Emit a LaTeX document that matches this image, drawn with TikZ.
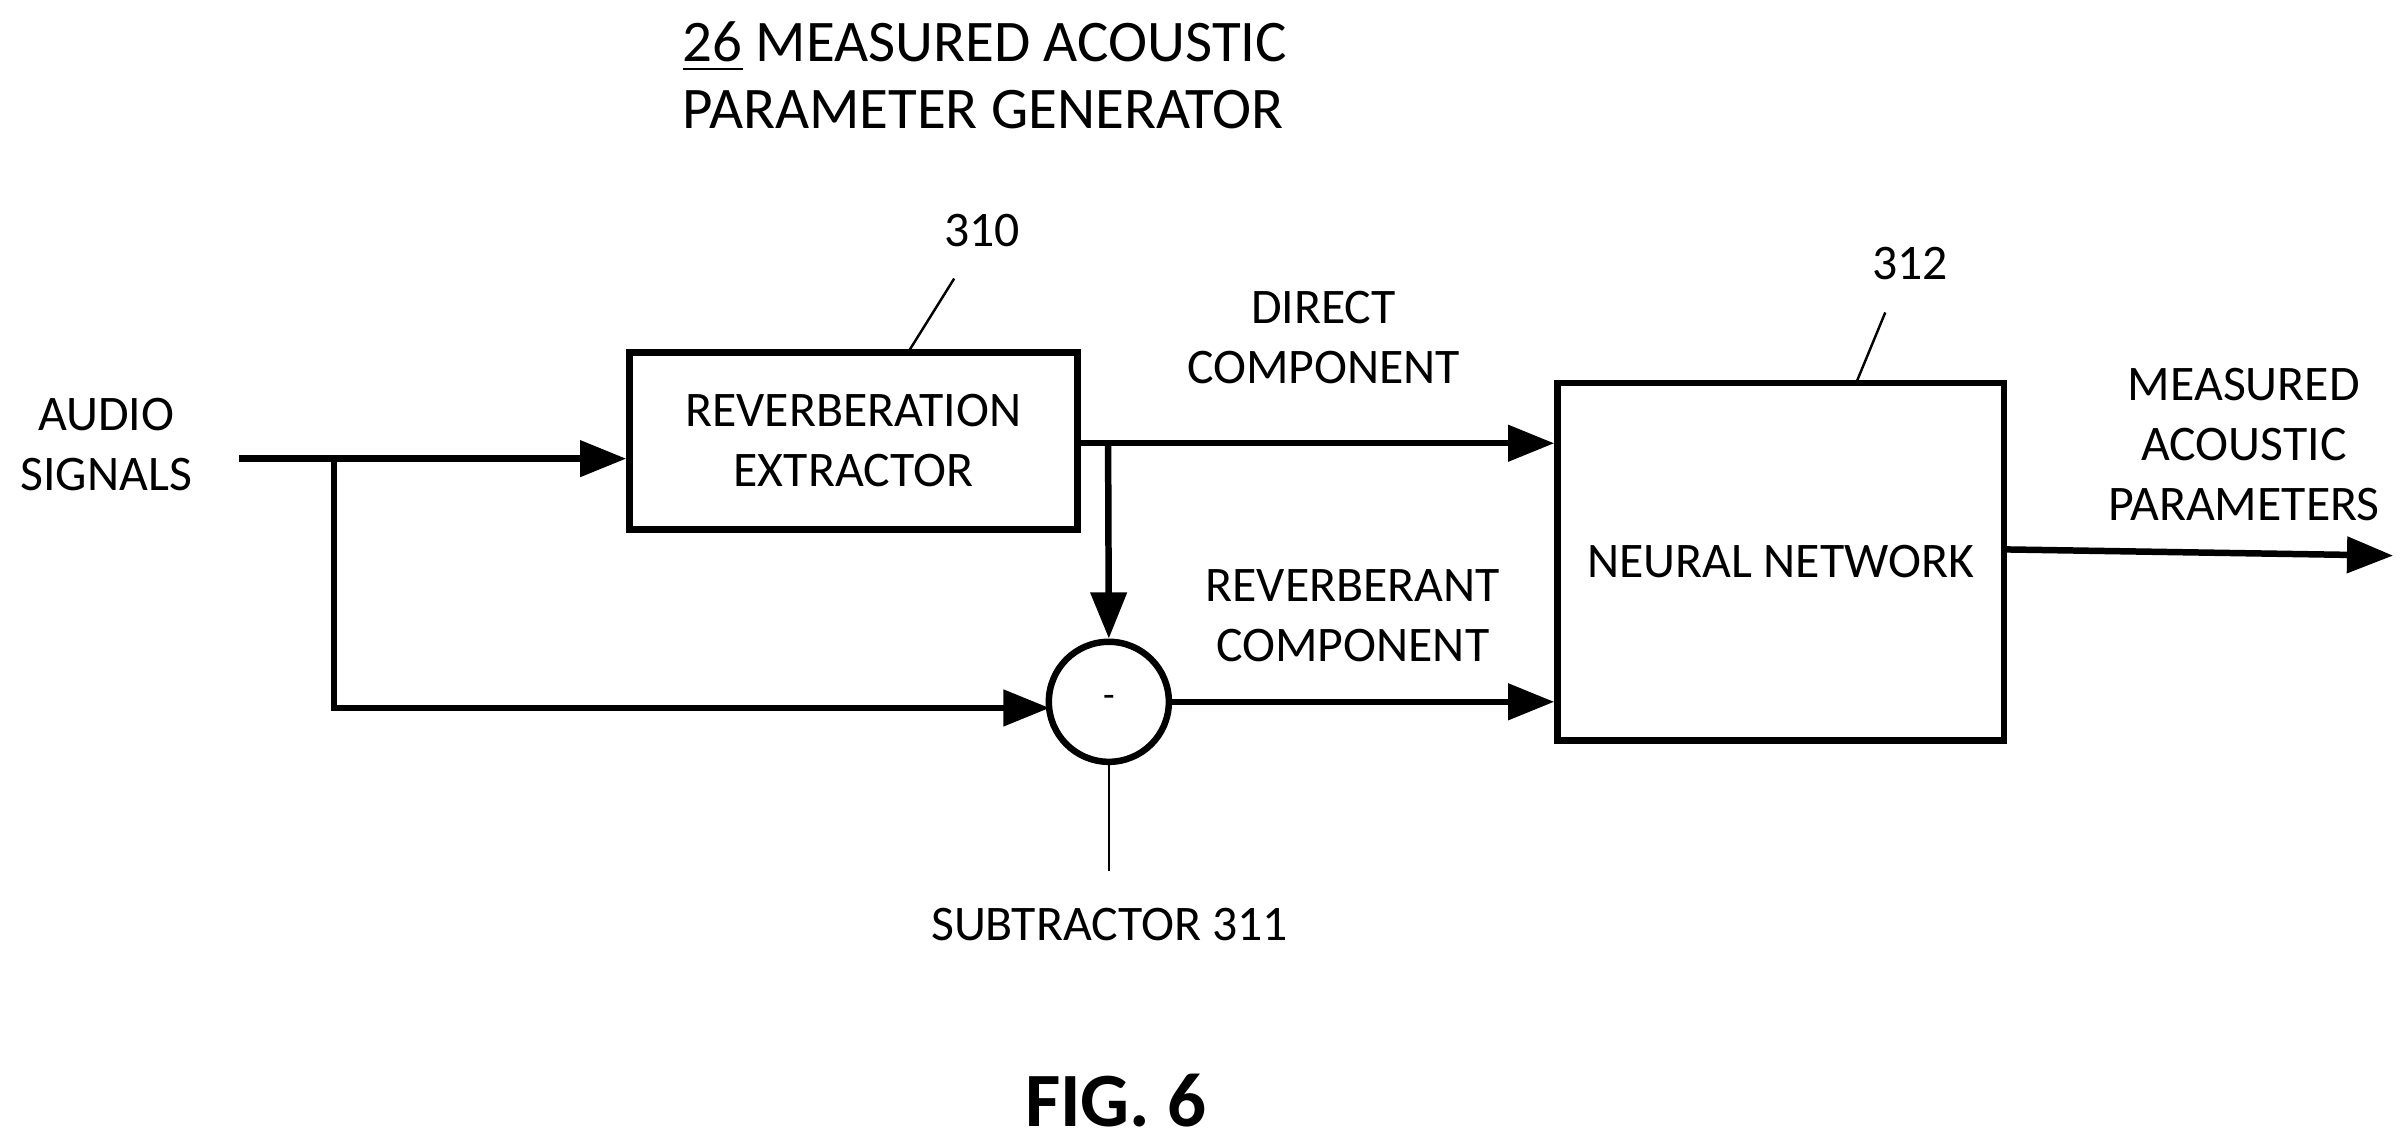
\documentclass[tikz,border=0pt]{standalone}
\usepackage{fontspec}
\setmainfont{Carlito}
\usetikzlibrary{arrows.meta}

\begin{document}
\begin{tikzpicture}
\tikzstyle{box}=[draw,line width=1.2pt,align=center,font=\lbl];
\tikzstyle{lbl}=[align=center,font=\lbl,inner sep=0pt];
\tikzstyle{sig}=[line width=1.2pt,-{Triangle[length=3mm,width=2.3mm]}];
\tikzstyle{lead}=[line width=0.45pt];
\newcommand{\lbl}{\fontsize{9.2}{11.1}\selectfont}

\useasboundingbox (0,0) rectangle (15.64,-7.41);

\node [lbl,anchor=west,font=\fontsize{10.9}{12.5}\selectfont,align=left] (title) at (4.43,-0.49) {\underline{26} MEASURED ACOUSTIC\\PARAMETER GENERATOR};

\node [box,minimum width=2.91cm,minimum height=1.15cm] (rev) at (5.545,-2.865) {REVERBERATION\\EXTRACTOR};
\node [box,minimum width=2.9cm,minimum height=2.32cm] (nn) at (11.57,-3.65) {NEURAL NETWORK};
\node [draw,circle,line width=1.2pt,minimum size=0.78cm,inner sep=0pt,font=\scriptsize] (sub) at (7.205,-4.56) {-};

\node [lbl] (audio) at (0.69,-2.89) {AUDIO\\SIGNALS};
\node [lbl] (direct) at (8.6,-2.19) {DIRECT\\COMPONENT};
\node [lbl] (reverb) at (8.79,-4.0) {REVERBERANT\\COMPONENT};
\node [lbl] (param) at (14.58,-2.89) {MEASURED\\ACOUSTIC\\PARAMETERS};
\node [lbl] (n310) at (6.38,-1.5) {310};
\node [lbl] (n312) at (12.41,-1.71) {312};
\node [lbl] (n311) at (7.21,-6.01) {SUBTRACTOR 311};
\node [lbl,font=\fontsize{14.2}{16}\selectfont\bfseries] (fig) at (7.25,-7.15) {FIG. 6};

\coordinate (in) at (1.55,-2.98);
\coordinate (fork) at (2.17,-2.98);
\coordinate (low) at (6.82,-4.6);
\coordinate (tap) at (7.2,-2.88);
\coordinate (out) at (15.55,-3.61);
\coordinate (a310) at (5.9,-2.29);
\coordinate (b310) at (6.2,-1.81);
\coordinate (a312) at (12.06,-2.49);
\coordinate (b312) at (12.25,-2.03);
\coordinate (b311) at (7.205,-5.66);

\draw [sig] (in) -- (rev.west |- in);
\draw [sig] (fork) |- (low);
\draw [sig] (rev.east |- tap) -- (nn.west |- tap);
\draw [sig] (tap) -- (sub.north);
\draw [sig] (sub.east) -- (nn.west |- sub.east);
\draw [sig] (nn.east |- 0,-3.57) -- (out);

\draw [lead] (a310) -- (b310);
\draw [lead] (a312) -- (b312);
\draw [lead] (sub.south) -- (b311);
\end{tikzpicture}
\end{document}
